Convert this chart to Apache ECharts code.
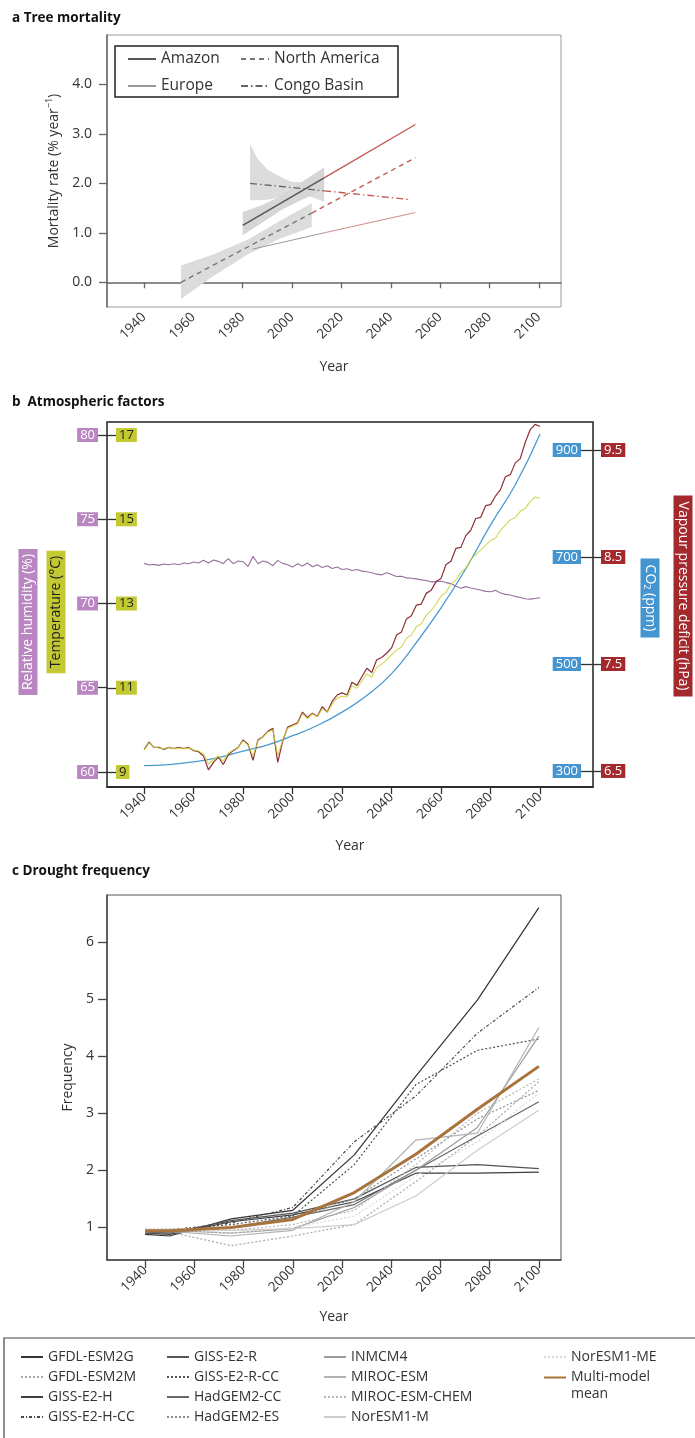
<!DOCTYPE html>
<html><head><meta charset="utf-8">
<script src="https://cdn.jsdelivr.net/npm/echarts@6/dist/echarts.min.js"></script>
<style>html,body{margin:0;padding:0;background:#fff}#c{width:695px;height:1438px}</style>
</head><body><div id="c"></div>
<script>
// ================= DATA =================
const yearTicks = [1940, 1960, 1980, 2000, 2020, 2040, 2060, 2080, 2100];

// ---- Panel a: tree mortality trends (observed -> projected, split at middle point)
const mortTicks = [0, 1, 2, 3, 4];
const amazonYears = [1980, 2013, 2050];
const amazonRate = [1.15, 2.11, 3.19];
const northAmYears = [1955, 2008, 2050];
const northAmRate = [0.00, 1.40, 2.52];
const europeYears = [1984, 2013, 2050];
const europeRate = [0.67, 1.00, 1.41];
const congoYears = [1983, 2013, 2048];
const congoRate = [2.00, 1.85, 1.67];
// confidence bands
const amazonBandYears = [1980, 1988, 1996, 2004, 2013];
const amazonBandLo = [0.95, 1.21, 1.47, 1.67, 1.87];
const amazonBandHi = [1.42, 1.56, 1.76, 2.03, 2.32];
const northAmBandYears = [1955, 1968, 1982, 1995, 2008];
const northAmBandLo = [-0.34, 0.12, 0.56, 0.88, 1.12];
const northAmBandHi = [0.34, 0.56, 0.86, 1.24, 1.60];
const congoBandYears = [1983, 1986, 1990, 1995, 2000, 2006, 2013];
const congoBandLo = [1.66, 1.66, 1.67, 1.72, 1.83, 1.76, 1.63];
const congoBandHi = [2.80, 2.50, 2.28, 2.14, 2.03, 2.02, 2.09];

// ---- Panel b: atmospheric factors
const rhTicks = [60, 65, 70, 75, 80];
const tempTicks = [9, 11, 13, 15, 17];
const co2Ticks = [300, 500, 700, 900];
const vpdTicks = [6.5, 7.5, 8.5, 9.5];
const climYears = [];
for (let y = 1940; y <= 2100; y += 2) climYears.push(y);
const relHumidity = [
  72.38, 72.28, 72.32, 72.26, 72.34, 72.30, 72.36, 72.30, 72.40, 72.36,
  72.46, 72.40, 72.56, 72.40, 72.58, 72.50, 72.36, 72.66, 72.36, 72.52,
  72.48, 72.20, 72.80, 72.36, 72.52, 72.44, 72.24, 72.56, 72.38, 72.30,
  72.16, 72.36, 72.22, 72.40, 72.18, 72.30, 72.14, 72.24, 72.08, 72.16,
  72.02, 72.06, 71.96, 72.02, 71.92, 71.88, 71.82, 71.74, 71.70, 71.82,
  71.72, 71.60, 71.62, 71.52, 71.50, 71.46, 71.40, 71.36, 71.28, 71.30,
  71.32, 71.24, 71.18, 71.02, 70.90, 71.00, 70.92, 70.86, 70.80, 70.72,
  70.70, 70.78, 70.62, 70.54, 70.50, 70.42, 70.36, 70.28, 70.26, 70.30,
  70.34];
const temperature = [
  9.52, 9.69, 9.59, 9.57, 9.55, 9.59, 9.55, 9.57, 9.55, 9.57,
  9.52, 9.50, 9.43, 9.19, 9.29, 9.38, 9.26, 9.45, 9.52, 9.59,
  9.74, 9.64, 9.38, 9.74, 9.83, 9.95, 10.00, 9.40, 9.76, 10.04,
  10.09, 10.14, 10.38, 10.26, 10.38, 10.31, 10.50, 10.42, 10.61, 10.76,
  10.80, 10.78, 11.04, 10.99, 11.16, 11.33, 11.25, 11.49, 11.56, 11.66,
  11.78, 11.90, 11.96, 12.17, 12.26, 12.45, 12.52, 12.72, 12.84, 12.98,
  13.18, 13.27, 13.46, 13.56, 13.74, 13.84, 14.04, 14.16, 14.27, 14.38,
  14.50, 14.55, 14.74, 14.86, 14.99, 15.04, 15.19, 15.26, 15.42, 15.53,
  15.50];
const vapourDeficit = [
  6.70, 6.77, 6.72, 6.72, 6.70, 6.72, 6.71, 6.72, 6.71, 6.72,
  6.69, 6.68, 6.64, 6.51, 6.58, 6.63, 6.56, 6.65, 6.69, 6.72,
  6.79, 6.75, 6.60, 6.79, 6.82, 6.87, 6.90, 6.58, 6.78, 6.91,
  6.93, 6.95, 7.05, 7.00, 7.04, 7.01, 7.10, 7.05, 7.15, 7.21,
  7.23, 7.21, 7.33, 7.30, 7.38, 7.46, 7.42, 7.54, 7.56, 7.60,
  7.65, 7.77, 7.80, 7.92, 7.95, 8.05, 8.06, 8.16, 8.19, 8.27,
  8.30, 8.43, 8.46, 8.58, 8.59, 8.70, 8.75, 8.86, 8.87, 8.98,
  8.99, 9.07, 9.13, 9.25, 9.27, 9.38, 9.42, 9.57, 9.69, 9.74,
  9.72];
const co2Years = [1940, 1950, 1960, 1970, 1980, 1990, 2000, 2010, 2020, 2030, 2040, 2050, 2060, 2070, 2080, 2090, 2100];
const co2ppm = [310, 312, 317, 325, 337, 349, 366, 385, 410, 441, 482, 540, 605, 678, 760, 835, 930];

// ---- Panel c: drought frequency
const freqTicks = [1, 2, 3, 4, 5, 6];
const droughtYears = [1940, 1950, 1975, 2000, 2025, 2050, 2075, 2100];
const gfdlEsm2g = [0.88, 0.85, 1.15, 1.30, 2.27, 3.65, 4.98, 6.60];
const gfdlEsm2m = [0.95, 0.92, 0.68, 0.85, 1.05, 1.80, 2.60, 3.55];
const gissE2H = [0.90, 0.88, 1.10, 1.22, 1.45, 1.95, 1.95, 1.97];
const gissE2HCC = [0.93, 0.95, 1.08, 1.35, 2.50, 3.30, 4.40, 5.20];
const gissE2R = [0.92, 0.90, 1.12, 1.25, 1.50, 2.05, 2.10, 2.03];
const gissE2RCC = [0.94, 0.96, 1.05, 1.20, 2.10, 3.50, 4.10, 4.30];
const hadgem2CC = [0.90, 0.92, 1.00, 1.18, 1.40, 2.00, 2.60, 3.20];
const hadgem2ES = [0.95, 0.97, 1.00, 1.15, 1.50, 2.20, 2.90, 3.40];
const inmcm4 = [0.92, 0.95, 0.90, 0.98, 1.35, 2.00, 2.75, 4.35];
const mirocEsm = [0.95, 0.93, 0.85, 0.95, 1.45, 2.53, 2.65, 4.50];
const mirocEsmChem = [0.96, 0.98, 0.95, 1.05, 1.30, 2.10, 3.00, 3.60];
const noresm1M = [0.95, 0.96, 0.95, 0.98, 1.05, 1.55, 2.35, 3.05];
const noresm1ME = [0.98, 0.97, 0.90, 1.00, 1.20, 1.90, 2.50, 3.35];
const multiModelMean = [0.94, 0.94, 1.00, 1.14, 1.61, 2.28, 3.07, 3.82];

// ================= CHART =================
const FONT = '"Open Sans", "DejaVu Sans", sans-serif';
const RED = '#c25a57';
const pairs = (xs, ys, a, b) => xs.slice(a, b).map((x, i) => [x, ys[a + i]]);

function band(xIdx, yIdx, years, lo, hi, color) {
  return {
    type: 'custom', xAxisIndex: xIdx, yAxisIndex: yIdx, silent: true, z: 1,
    data: years.map((y, i) => [y, lo[i], hi[i]]),
    encode: { x: 0, y: [1, 2] },
    renderItem: function (params, api) {
      if (params.dataIndexInside !== 0) return null;
      const n = params.dataInsideLength, pts = [];
      for (let i = 0; i < n; i++) pts.push(api.coord([api.value(0, i), api.value(2, i)]));
      for (let i = n - 1; i >= 0; i--) pts.push(api.coord([api.value(0, i), api.value(1, i)]));
      return { type: 'polygon', shape: { points: pts }, style: { fill: color } };
    }
  };
}
function trend(name, years, vals, color, type, width, projected) {
  const data = projected ? pairs(years, vals, 1, 3) : pairs(years, vals, 0, 2);
  return {
    name: projected ? name + ' (projected)' : name, type: 'line', xAxisIndex: 0, yAxisIndex: 0,
    data, symbol: 'none', z: 3, lineStyle: { color, type, width }, itemStyle: { color }
  };
}
const xLabel = { customValues: yearTicks, formatter: v => String(v), rotate: 45, fontSize: 13.5, color: '#333', fontFamily: FONT, margin: 8 };

const series = [
  band(0, 0, northAmBandYears, northAmBandLo, northAmBandHi, '#dcdcdc'),
  band(0, 0, congoBandYears, congoBandLo, congoBandHi, '#dcdcdc'),
  band(0, 0, amazonBandYears, amazonBandLo, amazonBandHi, '#d6d6d6'),
  trend('Amazon', amazonYears, amazonRate, '#555', 'solid', 1.4, false),
  trend('Amazon', amazonYears, amazonRate, RED, 'solid', 1.4, true),
  trend('North America', northAmYears, northAmRate, '#777', [5, 4], 1.4, false),
  trend('North America', northAmYears, northAmRate, RED, [5, 4], 1.4, true),
  trend('Europe', europeYears, europeRate, '#999', 'solid', 1, false),
  trend('Europe', europeYears, europeRate, '#cf8a88', 'solid', 1, true),
  trend('Congo Basin', congoYears, congoRate, '#666', [7, 3, 1.5, 3], 1.3, false),
  trend('Congo Basin', congoYears, congoRate, RED, [7, 3, 1.5, 3], 1.3, true),
  // panel b
  { name: 'CO2', type: 'line', xAxisIndex: 1, yAxisIndex: 3, symbol: 'none', smooth: true,
    data: co2Years.map((y, i) => [y, co2ppm[i]]), lineStyle: { color: '#4a9ad2', width: 1.3 } },
  { name: 'RH', type: 'line', xAxisIndex: 1, yAxisIndex: 1, symbol: 'none',
    data: climYears.map((y, i) => [y, relHumidity[i]]), lineStyle: { color: '#9a6fa0', width: 1.1 } },
  { name: 'VPD', type: 'line', xAxisIndex: 1, yAxisIndex: 4, symbol: 'none',
    data: climYears.map((y, i) => [y, vapourDeficit[i]]), lineStyle: { color: '#8e2f35', width: 1.2 } },
  { name: 'Temp', type: 'line', xAxisIndex: 1, yAxisIndex: 2, symbol: 'none',
    data: climYears.map((y, i) => [y, temperature[i]]), lineStyle: { color: '#c9d23c', width: 1.1, opacity: 0.85 } }
];

const models = [
  ['GFDL-ESM2G', gfdlEsm2g, '#333333', 'solid'],
  ['GFDL-ESM2M', gfdlEsm2m, '#a8a8a8', [2, 2]],
  ['GISS-E2-H', gissE2H, '#3e3e3e', 'solid'],
  ['GISS-E2-H-CC', gissE2HCC, '#484848', [3, 2, 1, 2]],
  ['GISS-E2-R', gissE2R, '#555555', 'solid'],
  ['GISS-E2-R-CC', gissE2RCC, '#505050', [2, 2]],
  ['HadGEM2-CC', hadgem2CC, '#686868', 'solid'],
  ['HadGEM2-ES', hadgem2ES, '#8c8c8c', [2, 2]],
  ['INMCM4', inmcm4, '#9c9c9c', 'solid'],
  ['MIROC-ESM', mirocEsm, '#b2b2b2', 'solid'],
  ['MIROC-ESM-CHEM', mirocEsmChem, '#b8b8b8', [2, 2]],
  ['NorESM1-M', noresm1M, '#cdcdcd', 'solid'],
  ['NorESM1-ME', noresm1ME, '#d9d9d9', [2, 2]]
];
models.forEach(m => series.push({
  name: m[0], type: 'line', xAxisIndex: 2, yAxisIndex: 5, symbol: 'none',
  data: droughtYears.map((y, i) => [y, m[1][i]]),
  lineStyle: { color: m[2], type: m[3], width: 1.2 }, itemStyle: { color: m[2] }
}));
series.push({
  name: 'Multi-model mean', type: 'line', xAxisIndex: 2, yAxisIndex: 5, symbol: 'none', z: 5,
  data: droughtYears.map((y, i) => [y, multiModelMean[i]]),
  lineStyle: { color: '#a8733d', width: 3 }, itemStyle: { color: '#a8733d' }
});

const legendText = { fontFamily: FONT, fontSize: 14, color: '#333' };
function colLegend(names, left, top, extra) {
  return Object.assign({
    data: names, left, top, orient: 'vertical', itemWidth: 22, itemHeight: 12, itemGap: 6,
    textStyle: legendText, selectedMode: false, padding: 0, z: 6,
    itemStyle: { opacity: 0 }
  }, extra || {});
}

const option = {
  animation: false,
  textStyle: { fontFamily: FONT },
  title: [
    { text: 'a Tree mortality', left: 12, top: 11, padding: 0, textStyle: { fontSize: 13.5, fontWeight: 'bold', color: '#111', fontFamily: FONT } },
    { text: 'b  Atmospheric factors', left: 12, top: 395, padding: 0, textStyle: { fontSize: 13.5, fontWeight: 'bold', color: '#111', fontFamily: FONT } },
    { text: 'c Drought frequency', left: 12, top: 864, padding: 0, textStyle: { fontSize: 13.5, fontWeight: 'bold', color: '#111', fontFamily: FONT } }
  ],
  grid: [
    { left: 107, top: 35, width: 454, height: 272, show: true, borderColor: '#9a9a9a', borderWidth: 1 },
    { left: 107, top: 422, width: 486, height: 365, show: true, borderColor: '#222', borderWidth: 1.5 },
    { left: 107, top: 895, width: 454, height: 365, show: true, borderColor: '#555', borderWidth: 1 }
  ],
  xAxis: [
    { type: 'value', gridIndex: 0, min: 1925, max: 2109, name: 'Year', nameLocation: 'middle', nameGap: 53,
      nameTextStyle: { fontSize: 14, color: '#333', fontFamily: FONT },
      axisLine: { lineStyle: { color: '#666', width: 1.5 } },
      axisTick: { customValues: yearTicks, length: 6, lineStyle: { color: '#666', width: 1.3 } },
      axisLabel: xLabel, splitLine: { show: false } },
    { type: 'value', gridIndex: 1, min: 1925, max: 2121.4, name: 'Year', nameLocation: 'middle', nameGap: 52,
      nameTextStyle: { fontSize: 14, color: '#333', fontFamily: FONT },
      axisLine: { lineStyle: { color: '#222', width: 1.5 } },
      axisTick: { customValues: yearTicks, length: 7, lineStyle: { color: '#333', width: 1.3 } },
      axisLabel: xLabel, splitLine: { show: false } },
    { type: 'value', gridIndex: 2, min: 1924.5, max: 2109, name: 'Year', nameLocation: 'middle', nameGap: 50,
      nameTextStyle: { fontSize: 14, color: '#333', fontFamily: FONT },
      axisLine: { lineStyle: { color: '#444', width: 1.5 } },
      axisTick: { customValues: yearTicks, length: 8, lineStyle: { color: '#444', width: 1.3 } },
      axisLabel: xLabel, splitLine: { show: false } }
  ],
  yAxis: [
    { type: 'value', gridIndex: 0, min: -0.5, max: 5.0, position: 'left',
      name: '{t|Mortality rate (% year}{s|−1}{t|)}', nameLocation: 'middle', nameGap: 44,
      nameTextStyle: { rich: { t: { fontSize: 14, color: '#333', fontFamily: FONT, lineHeight: 18 }, s: { fontSize: 9, color: '#333', fontFamily: FONT, verticalAlign: 'top', lineHeight: 18 } } },
      axisLine: { show: true, lineStyle: { color: '#666', width: 1.5 } },
      axisTick: { show: true, customValues: mortTicks, length: 8, lineStyle: { color: '#666', width: 1.3 } },
      axisLabel: { customValues: mortTicks, formatter: v => v.toFixed(1), fontSize: 14, color: '#333', margin: 15 },
      splitLine: { show: false } },
    // RH (left, outside labels)
    { type: 'value', gridIndex: 1, min: 59.11, max: 80.77, position: 'left',
      axisLine: { show: false },
      axisTick: { show: true, customValues: rhTicks, length: 9, lineStyle: { color: '#333', width: 1.3 } },
      axisLabel: { customValues: rhTicks, margin: 9, fontSize: 13, color: '#fff', backgroundColor: '#b986c2', padding: [1, 3, 0, 3], fontFamily: FONT },
      splitLine: { show: false } },
    // Temperature (left, inside labels)
    { type: 'value', gridIndex: 1, min: 8.644, max: 17.31, position: 'left',
      axisLine: { show: false },
      axisTick: { show: true, inside: true, customValues: tempTicks, length: 9, lineStyle: { color: '#333', width: 1.3 } },
      axisLabel: { inside: true, customValues: tempTicks, margin: 9, fontSize: 13, color: '#222', backgroundColor: '#c3c932', padding: [1, 3, 0, 3], fontFamily: FONT },
      splitLine: { show: false } },
    // CO2 (right, inside labels)
    { type: 'value', gridIndex: 1, min: 270.1, max: 952.3, position: 'right',
      axisLine: { show: false },
      axisTick: { show: true, inside: true, customValues: co2Ticks, length: 12, lineStyle: { color: '#333', width: 1.3 } },
      axisLabel: { inside: true, customValues: co2Ticks, margin: 12, fontSize: 13, color: '#fff', backgroundColor: '#4596d0', padding: [1, 3, 0, 3], fontFamily: FONT },
      splitLine: { show: false } },
    // VPD (right, outside labels)
    { type: 'value', gridIndex: 1, min: 6.350, max: 9.762, position: 'right',
      axisLine: { show: false },
      axisTick: { show: true, customValues: vpdTicks, length: 8, lineStyle: { color: '#333', width: 1.3 } },
      axisLabel: { customValues: vpdTicks, margin: 8, fontSize: 13, color: '#fff', backgroundColor: '#a3292d', padding: [1, 3, 0, 3], fontFamily: FONT },
      splitLine: { show: false } },
    // Frequency
    { type: 'value', gridIndex: 2, min: 0.43, max: 6.82, position: 'left',
      name: 'Frequency', nameLocation: 'middle', nameGap: 30,
      nameTextStyle: { fontSize: 14, color: '#333', fontFamily: FONT },
      axisLine: { show: true, lineStyle: { color: '#444', width: 1.5 } },
      axisTick: { show: true, customValues: freqTicks, length: 9, lineStyle: { color: '#444', width: 1.3 } },
      axisLabel: { customValues: freqTicks, fontSize: 14, color: '#333', margin: 13 },
      splitLine: { show: false } }
  ],
  legend: [
    colLegend(['Amazon', 'Europe'], 127, 51, { itemWidth: 28, itemHeight: 14, itemGap: 11, textStyle: Object.assign({}, legendText, { fontSize: 15.5 }) }),
    colLegend(['North America', 'Congo Basin'], 240, 51, { itemWidth: 28, itemHeight: 14, itemGap: 11, textStyle: Object.assign({}, legendText, { fontSize: 15.5 }) }),
    colLegend(['GFDL-ESM2G', 'GFDL-ESM2M', 'GISS-E2-H', 'GISS-E2-H-CC'], 20, 1350),
    colLegend(['GISS-E2-R', 'GISS-E2-R-CC', 'HadGEM2-CC', 'HadGEM2-ES'], 166, 1350),
    colLegend(['INMCM4', 'MIROC-ESM', 'MIROC-ESM-CHEM', 'NorESM1-M'], 323, 1350),
    colLegend(['NorESM1-ME'], 543, 1350),
    colLegend(['Multi-model mean'], 543, 1352, {
      formatter: n => ' \n' + n.replace(' mean', '') + '\nmean',
      textStyle: Object.assign({}, legendText, { lineHeight: 17 }) })
  ],
  graphic: [
    { type: 'rect', z: 5, shape: { x: 115, y: 46, width: 283, height: 51 }, style: { fill: '#fff', stroke: '#222', lineWidth: 1.5 } },
    { type: 'rect', z: 5, shape: { x: 4, y: 1338, width: 720, height: 130 }, style: { fill: '#fff', stroke: '#444', lineWidth: 1.2 } },
    { type: 'text', z: 6, x: 28, y: 622, rotation: Math.PI / 2,
      style: { text: 'Relative humidity (%)', fill: '#fff', backgroundColor: '#b986c2', padding: [3, 5, 2, 5], font: '14px ' + FONT, align: 'center', verticalAlign: 'middle' } },
    { type: 'text', z: 6, x: 56, y: 612, rotation: Math.PI / 2,
      style: { text: 'Temperature (°C)', fill: '#222', backgroundColor: '#c3c932', padding: [3, 5, 2, 5], font: '14px ' + FONT, align: 'center', verticalAlign: 'middle' } },
    { type: 'text', z: 6, x: 650, y: 598, rotation: -Math.PI / 2,
      style: { text: 'CO{s|2} (ppm)', rich: { s: { fill: '#fff', fontSize: 9, fontFamily: FONT, verticalAlign: 'bottom' } },
        fill: '#fff', backgroundColor: '#4596d0', padding: [3, 6, 2, 6], font: '14px ' + FONT, align: 'center', verticalAlign: 'middle' } },
    { type: 'text', z: 6, x: 683, y: 596, rotation: -Math.PI / 2,
      style: { text: 'Vapour pressure deficit (hPa)', fill: '#fff', backgroundColor: '#a3292d', padding: [3, 6, 2, 6], font: '14px ' + FONT, align: 'center', verticalAlign: 'middle' } }
  ],
  series
};

const chart = echarts.init(document.getElementById('c'), null, { renderer: 'canvas' });
chart.setOption(option);
</script>
</body></html>
